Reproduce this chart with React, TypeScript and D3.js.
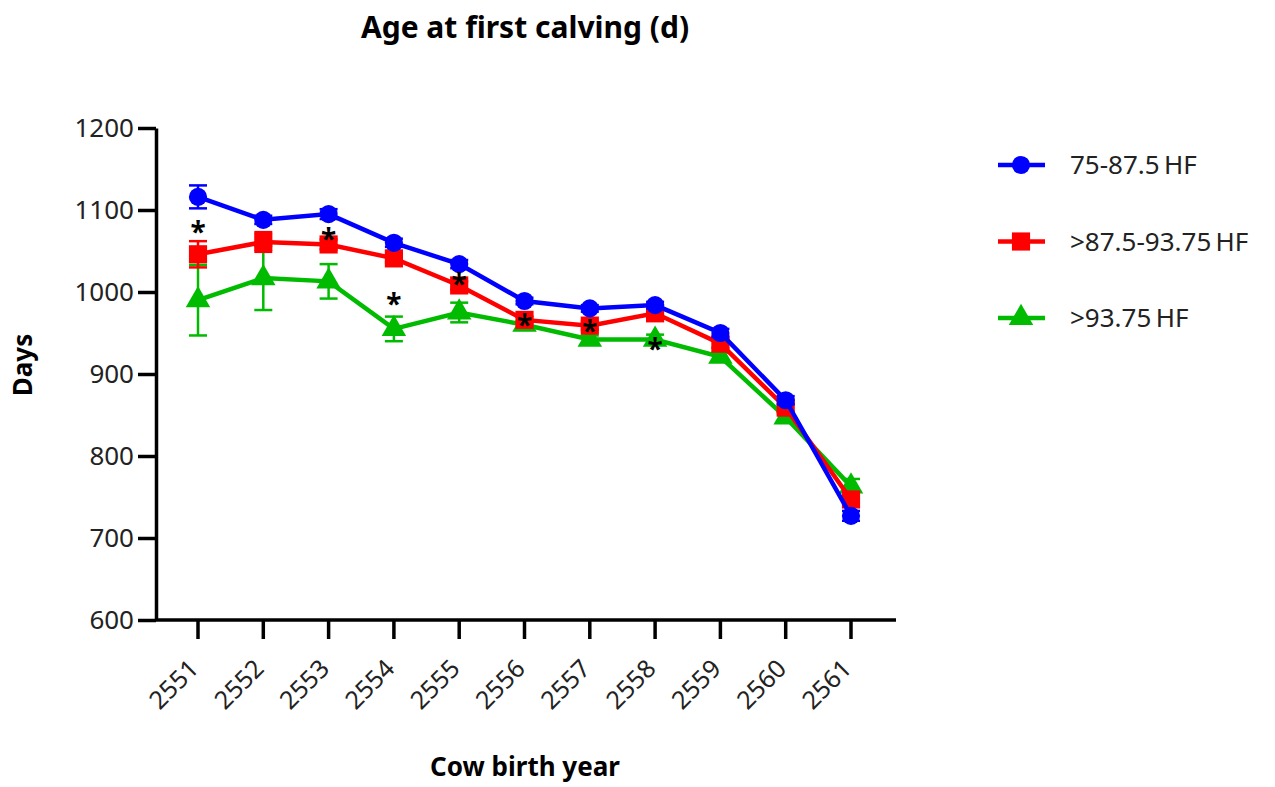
import React, { useEffect, useRef } from "react";
import * as d3 from "d3";

const years = ["2551", "2552", "2553", "2554", "2555", "2556", "2557", "2558", "2559", "2560", "2561"];
const seriesNames = ["75-87.5", ">87.5-93.75", ">93.75"];
const blueMean = [1116, 1088, 1095, 1060, 1034, 989, 980, 984, 950, 868, 727];
const blueErr = [14, 5, 6, 5, 5, 4, 4, 4, 5, 5, 6];
const redMean = [1046, 1061, 1058, 1041, 1008, 966, 959, 974, 937, 859, 747];
const redErr = [16, 12, 6, 5, 5, 4, 5, 5, 5, 5, 6];
const greenMean = [990, 1017, 1013, 955, 975, 960, 942, 942, 921, 847, 763];
const greenErr = [43, 39, 21, 15, 12, 4, 5, 6, 5, 5, 9];
const yTicks = [600, 700, 800, 900, 1000, 1100, 1200];
// asterisk positions (year, value level)
const starYears = ["2551", "2553", "2554", "2555", "2556", "2557", "2558"];
const starValues = [1078, 1070, 990, 1015, 965, 957, 935];

const FONT = "'Noto Sans', sans-serif";

const App = () => {
  const svgRef = useRef<SVGSVGElement>(null);

  useEffect(() => {
    const width = 1275;
    const height = 787;
    const svg = d3.select(svgRef.current);
    svg.selectAll("*").remove();

    const x = d3.scalePoint().domain(years).range([198, 851]);
    const y = d3.scaleLinear().domain([600, 1200]).range([620, 128]);

    const series = [
      { name: seriesNames[0], mean: blueMean, err: blueErr, color: "#0000ff", shape: "circle" },
      { name: seriesNames[1], mean: redMean, err: redErr, color: "#ff0000", shape: "square" },
      { name: seriesNames[2], mean: greenMean, err: greenErr, color: "#00bb00", shape: "triangle" },
    ];

    const sym = (shape: string) =>
      shape === "circle"
        ? d3.symbol(d3.symbolCircle, 260)()
        : shape === "square"
        ? d3.symbol(d3.symbolSquare, 330)()
        : d3.symbol(d3.symbolTriangle, 260)();

    // title
    svg.append("text").attr("x", 525).attr("y", 38).attr("text-anchor", "middle")
      .attr("font-family", FONT).attr("font-weight", "bold").attr("font-size", 30)
      .text("Age at first calving (d)");

    // axes
    const yAxis = svg.append("g").attr("transform", "translate(156,0)")
      .call(d3.axisLeft(y).tickValues(yTicks).tickFormat(d3.format("d")).tickSize(18).tickPadding(4).tickSizeOuter(0));
    yAxis.select(".domain").attr("stroke-width", 3.5);
    yAxis.selectAll(".tick line").attr("stroke-width", 3.5);
    yAxis.selectAll("text").attr("font-family", FONT).attr("font-size", 26).attr("fill", "#222");

    const xAxis = svg.append("g").attr("transform", "translate(0,620)");
    xAxis.append("line").attr("x1", 156).attr("x2", 896).attr("stroke", "#000").attr("stroke-width", 3.5);
    const xt = xAxis.selectAll("g.tick").data(years).join("g")
      .attr("transform", (d) => `translate(${x(d)},0)`);
    xt.append("line").attr("y1", 0).attr("y2", 19).attr("stroke", "#000").attr("stroke-width", 3.5);
    xt.append("text").attr("transform", "translate(-4,44) rotate(-45)")
      .attr("text-anchor", "end").attr("dy", "0.35em")
      .attr("font-family", FONT).attr("font-size", 25).attr("fill", "#222").text((d) => d);

    svg.append("text").attr("x", 525).attr("y", 776).attr("text-anchor", "middle")
      .attr("font-family", FONT).attr("font-weight", "bold").attr("font-size", 26)
      .text("Cow birth year");
    svg.append("text").attr("transform", "translate(32,365) rotate(-90)").attr("text-anchor", "middle")
      .attr("font-family", FONT).attr("font-weight", "bold").attr("font-size", 26)
      .text("Days");

    const line = d3.line<number>().x((_, i) => x(years[i])!).y((d) => y(d));

    // draw green first, blue on top
    [...series].reverse().forEach((s) => {
      const g = svg.append("g");
      // error bars
      s.mean.forEach((m, i) => {
        const cx = x(years[i])!;
        const t = y(m + s.err[i]);
        const b = y(m - s.err[i]);
        g.append("line").attr("x1", cx).attr("x2", cx).attr("y1", t).attr("y2", b)
          .attr("stroke", s.color).attr("stroke-width", 2.5);
        [t, b].forEach((yy) =>
          g.append("line").attr("x1", cx - 9).attr("x2", cx + 9).attr("y1", yy).attr("y2", yy)
            .attr("stroke", s.color).attr("stroke-width", 2.5));
      });
      g.append("path").datum(s.mean).attr("d", line).attr("fill", "none")
        .attr("stroke", s.color).attr("stroke-width", 4.5);
      g.selectAll("path.m").data(s.mean).join("path").attr("class", "m")
        .attr("transform", (d, i) => `translate(${x(years[i])},${y(d)})`)
        .attr("d", sym(s.shape)).attr("fill", s.color);
    });

    // asterisks
    svg.selectAll("text.star").data(starYears).join("text").attr("class", "star")
      .attr("x", (d) => x(d)!).attr("y", (_, i) => y(starValues[i]) + 14)
      .attr("text-anchor", "middle").attr("font-family", FONT).attr("font-size", 28)
      .attr("font-weight", "bold").text("*");

    // legend
    const leg = svg.append("g");
    series.forEach((s, i) => {
      const ly = 165 + i * 76.5;
      leg.append("line").attr("x1", 998).attr("x2", 1045).attr("y1", ly).attr("y2", ly)
        .attr("stroke", s.color).attr("stroke-width", 4.5);
      leg.append("path").attr("transform", `translate(1021,${ly})`).attr("d", sym(s.shape)).attr("fill", s.color);
      leg.append("text").attr("x", 1070).attr("y", ly).attr("dy", "0.35em")
        .attr("font-family", FONT).attr("font-size", 26).attr("fill", "#222")
        .text(`${s.name}\u2009HF`);
    });

    svg.attr("width", width).attr("height", height);
  }, []);

  return <svg ref={svgRef} style={{ position: "absolute", left: 0, top: 0 }}></svg>;
};

export default App;
